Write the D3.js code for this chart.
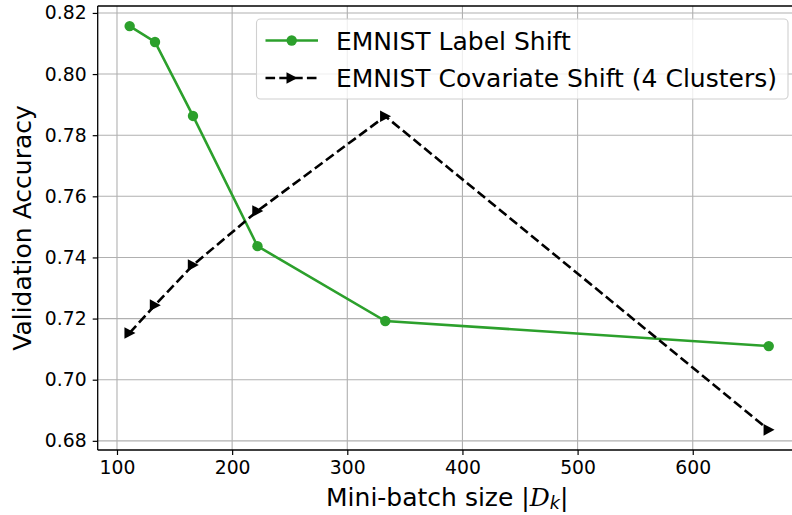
<!DOCTYPE html>
<html><head><meta charset="utf-8">
<script src="https://cdn.jsdelivr.net/npm/d3@7"></script>
<style>body{margin:0;background:#fff}svg{display:block}</style>
</head><body><svg id="c" width="792" height="515" style="font-family:'DejaVu Sans',sans-serif"></svg>
<script>
const batchSizes = [111, 133, 166, 222, 333, 666];
const labelShift = [0.8157, 0.8105, 0.7863, 0.7437, 0.7192, 0.7110];
const covariateShift = [0.7153, 0.7244, 0.7375, 0.7552, 0.7862, 0.6836];
const xTicks = [100, 200, 300, 400, 500, 600];
const yTicks = [0.68, 0.70, 0.72, 0.74, 0.76, 0.78, 0.80, 0.82];
const seriesNames = ["EMNIST Label Shift", "EMNIST Covariate Shift (4 Clusters)"];

const svg = d3.select("#c");
const L = 97.7, R = 800.7, T = 6, B = 450;
const x = d3.scaleLinear().domain([83.25, 693.75]).range([L, R]);
const y = d3.scaleLinear().domain([0.67700, 0.82227]).range([B, T]);

// grid
const g = svg.append("g");
g.selectAll(".gx").data(xTicks).join("line")
  .attr("x1", d => x(d)).attr("x2", d => x(d)).attr("y1", T).attr("y2", B)
  .attr("stroke", "#b0b0b0").attr("stroke-width", 1.1);
g.selectAll(".gy").data(yTicks).join("line")
  .attr("x1", L).attr("x2", R).attr("y1", d => y(d)).attr("y2", d => y(d))
  .attr("stroke", "#b0b0b0").attr("stroke-width", 1.1);

svg.append("clipPath").attr("id", "clip").append("rect")
  .attr("x", L).attr("y", T).attr("width", R - L).attr("height", B - T);
const plot = svg.append("g").attr("clip-path", "url(#clip)");

const green = "#2ca02c";
const lw = 2.6, dash = "9.6,4.2";
const line = d3.line().x((d, i) => x(batchSizes[i])).y(d => y(d));
plot.append("path").datum(labelShift).attr("d", line)
  .attr("fill", "none").attr("stroke", green).attr("stroke-width", lw);
plot.selectAll(".m1").data(labelShift).join("circle")
  .attr("cx", (d, i) => x(batchSizes[i])).attr("cy", d => y(d)).attr("r", 5.2).attr("fill", green);

plot.append("path").datum(covariateShift).attr("d", line)
  .attr("fill", "none").attr("stroke", "#000").attr("stroke-width", lw)
  .attr("stroke-dasharray", dash);
const tri = "M5.8,0 L-5.2,-5.8 L-5.2,5.8 Z";
plot.selectAll(".m2").data(covariateShift).join("path")
  .attr("transform", (d, i) => `translate(${x(batchSizes[i])},${y(d)})`)
  .attr("d", tri).attr("fill", "#000");

// axes
const xAxis = d3.axisBottom(x).tickValues(xTicks).tickSize(5).tickPadding(6).tickFormat(d3.format("d"));
const yAxis = d3.axisLeft(y).tickValues(yTicks).tickSize(5).tickPadding(6).tickFormat(d3.format(".2f"));
const xa = svg.append("g").attr("transform", `translate(0,${B})`).call(xAxis);
const ya = svg.append("g").attr("transform", `translate(${L},0)`).call(yAxis);
[xa, ya].forEach(a => {
  a.attr("font-family", null).attr("font-size", null);
  a.select(".domain").remove();
  a.selectAll(".tick line").attr("stroke", "#000").attr("stroke-width", 1.2);
  a.selectAll(".tick text").attr("font-size", 18.8).attr("fill", "#000");
});
// spines
svg.append("line").attr("x1", L).attr("x2", L).attr("y1", T).attr("y2", B).attr("stroke", "#000").attr("stroke-width", 1.3);
svg.append("line").attr("x1", L).attr("x2", R).attr("y1", B).attr("y2", B).attr("stroke", "#000").attr("stroke-width", 1.3);
svg.append("line").attr("x1", L).attr("x2", R).attr("y1", T).attr("y2", T).attr("stroke", "#000").attr("stroke-width", 1.3);
svg.append("line").attr("x1", R).attr("x2", R).attr("y1", T).attr("y2", B).attr("stroke", "#000").attr("stroke-width", 1.3);

// labels
const xl = svg.append("text").attr("x", (L + R) / 2 - 2).attr("y", 506).attr("text-anchor", "middle").attr("font-size", 25);
xl.append("tspan").text("Mini-batch size |");
xl.append("tspan").attr("font-family", "DejaVu Serif").attr("font-style", "italic").text("D");
xl.append("tspan").attr("font-size", 17.5).attr("font-style", "italic").attr("dy", 3).text("k");
xl.append("tspan").attr("dy", -3).text("|");
svg.append("text").attr("transform", `translate(31,${(T + B) / 2}) rotate(-90)`)
  .attr("text-anchor", "middle").attr("font-size", 25).text("Validation Accuracy");

// legend
const lg = svg.append("g");
lg.append("rect").attr("x", 256.5).attr("y", 19).attr("width", 531.5).attr("height", 80).attr("rx", 4)
  .attr("fill", "#fff").attr("fill-opacity", 0.8).attr("stroke", "#d0d0d0").attr("stroke-width", 1.1);
lg.append("line").attr("x1", 265.5).attr("x2", 318).attr("y1", 40.5).attr("y2", 40.5).attr("stroke", green).attr("stroke-width", lw);
lg.append("circle").attr("cx", 291.7).attr("cy", 40.5).attr("r", 5.2).attr("fill", green);
lg.append("line").attr("x1", 265.5).attr("x2", 318).attr("y1", 78).attr("y2", 78).attr("stroke", "#000").attr("stroke-width", lw).attr("stroke-dasharray", dash);
lg.append("path").attr("transform", "translate(291.7,78)").attr("d", tri).attr("fill", "#000");
lg.append("text").attr("x", 336).attr("y", 49.5).attr("font-size", 25).text(seriesNames[0]);
lg.append("text").attr("x", 336).attr("y", 87.3).attr("font-size", 25).text(seriesNames[1]);
</script></body></html>
